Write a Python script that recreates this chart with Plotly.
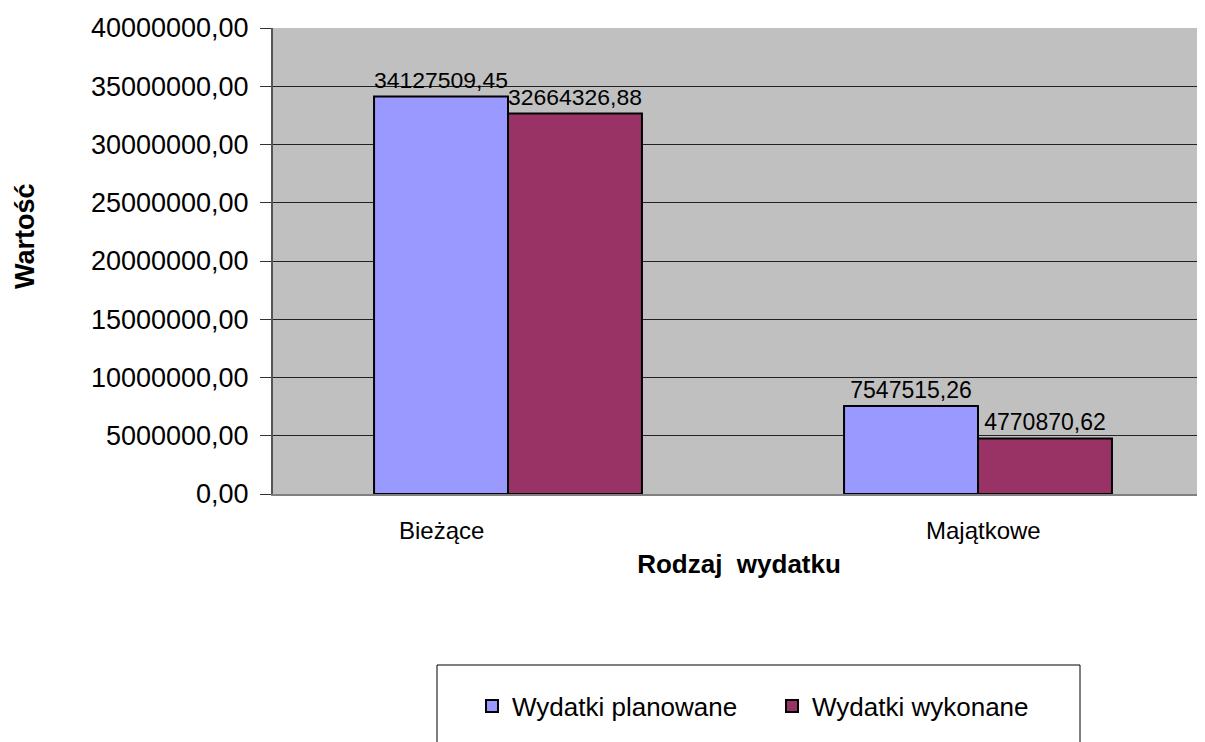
import plotly.graph_objects as go

categories = ["Bieżące", "Majątkowe"]
planned = [34127509.45, 7547515.26]
executed = [32664326.88, 4770870.62]
series_names = ["Wydatki planowane", "Wydatki wykonane"]
label_shift = [-67, 5]  # Excel draws the category labels slightly off-centre


def fmt(v):
    return f"{v:.2f}".replace(".", ",")


FONT = "Liberation Sans, Arial, sans-serif"

# the page adds an 8px body margin, so the figure is 8px smaller than the window
W, H = 1197, 734
L, T, B = 265, 20, 248
PW, PH = W - L, H - T - B  # 932 x 466

fig = go.Figure()
fig.add_trace(go.Bar(x=categories, y=planned, name=series_names[0],
                     marker=dict(color="#9999FF", line=dict(color="black", width=2)),
                     text=[fmt(v) for v in planned], textposition="outside",
                     textfont=dict(size=23, color="black"), cliponaxis=False))
fig.add_trace(go.Bar(x=categories, y=executed, name=series_names[1],
                     marker=dict(color="#993366", line=dict(color="black", width=2)),
                     text=[fmt(v) for v in executed], textposition="outside",
                     textfont=dict(size=23, color="black"), cliponaxis=False))

# category labels
for cat, dx in zip(categories, label_shift):
    fig.add_annotation(x=cat, y=0, yref="y", text=cat, showarrow=False,
                       xshift=dx, yshift=-36, yanchor="middle",
                       font=dict(size=24))

# rotated y title, placed a bit above the middle as in the original
fig.add_annotation(xref="paper", yref="paper", x=(17 - L) / PW, y=(H - B - 228) / PH,
                   text="<b>Wartość</b>", textangle=-90, showarrow=False,
                   xanchor="center", yanchor="middle", font=dict(size=27))

# frame of the legend (cut by the bottom edge, as in the original)
fig.add_shape(type="rect", xref="paper", yref="paper",
              x0=(429 - L) / PW, x1=(1072 - L) / PW,
              y0=(H - B - 760) / PH, y1=(H - B - 657) / PH,
              line=dict(color="black", width=1), fillcolor="rgba(0,0,0,0)")

fig.update_layout(
    width=W, height=H,
    margin=dict(l=L, r=0, t=T, b=B, autoexpand=False),
    paper_bgcolor="white", plot_bgcolor="#C0C0C0",
    font=dict(family=FONT, color="black"),
    separators=",.",
    barmode="group", bargap=0.43, bargroupgap=0,
    showlegend=True,
    legend=dict(orientation="h", x=(464 - L) / PW, xanchor="left",
                y=(H - B - 698) / PH, yanchor="middle",
                font=dict(size=26), itemwidth=30, entrywidth=255,
                bgcolor="rgba(0,0,0,0)"),
)
fig.update_xaxes(range=[-0.5, -0.5 + PW / 470], showgrid=False, automargin=False,
                 showline=True, linecolor="#808080", linewidth=2,
                 showticklabels=False, ticks="",
                 title=dict(text="<b>Rodzaj  wydatku</b>", font=dict(size=26), standoff=60))
fig.update_yaxes(range=[0, 40000000], dtick=5000000, tickformat=".2f",
                 showgrid=True, gridcolor="#222222", gridwidth=1, automargin=False,
                 showline=True, linecolor="#555555", linewidth=2,
                 ticks="outside", ticklen=11, tickcolor="#333333",
                 tickfont=dict(size=27), ticklabelstandoff=6, zeroline=False)

fig.write_html("out.html")
